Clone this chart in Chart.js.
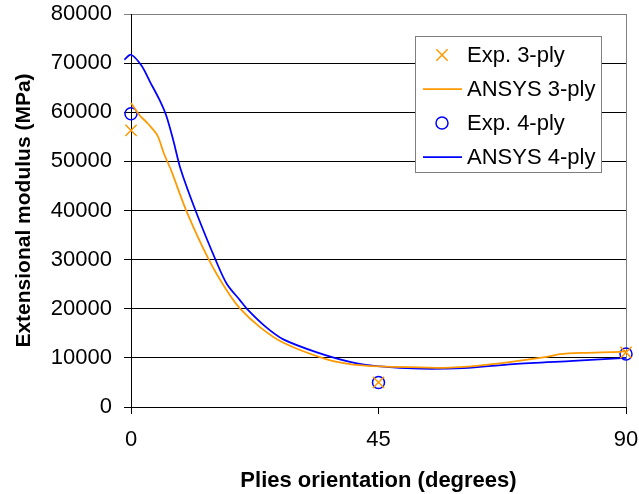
<!DOCTYPE html>
<html>
<head>
<meta charset="utf-8">
<script src="https://cdn.jsdelivr.net/npm/chart.js@4"></script>
<style>
  html, body { margin: 0; padding: 0; background: #fff; }
  canvas { display: block; }
</style>
</head>
<body>
<canvas id="chart" width="639" height="494"></canvas>
<script>
// ── Data ──────────────────────────────────────────────────────────────────
const expAngles    = [0, 45, 90];
const exp3Ply      = [56300, 5000, 11100];
const exp4Ply      = [59700, 5000, 10800];

const ansys3Angles = [0, 1.6, 3.1, 4.8, 6.0, 7.3, 10.1, 14.2, 17.3, 19.8, 23.5, 27.7, 35, 39.8, 45.3, 52.5, 58, 65.3, 75.6, 78, 82.2, 88.9, 90];
const ansys3Ply    = [61900, 59350, 57660, 55300, 51560, 48170, 39840, 29880, 23900, 20060, 16200, 13070, 9900, 8740, 8250, 8070, 8000, 8680, 10220, 10770, 11040, 11240, 11380];

const ansys4Angles = [-1.2, 0, 1.9, 3.5, 5.1, 6.4, 7.7, 9.0, 11.8, 15.4, 17.4, 19.8, 21.3, 24.5, 27.7, 33.8, 39.8, 45.3, 52.5, 60.4, 69.5, 80.4, 90];
const ansys4Ply    = [70700, 71700, 69500, 66100, 62700, 59350, 54270, 48500, 39800, 29900, 25100, 21750, 19700, 16300, 13760, 11120, 9200, 8250, 7790, 7930, 8740, 9410, 10000];

const xTicks = [0, 45, 90];
const yMax = 80000, yStep = 10000;

const ORANGE = '#FF9900';
const BLUE   = '#0000FF';
const FONT   = 'Arial, "Liberation Sans", sans-serif';

const pts = (xs, ys) => xs.map((x, i) => ({ x, y: ys[i] }));

// ── Legend drawn inside the plot, Excel style ─────────────────────────────
const boxLegend = {
    id: 'boxLegend',
    afterDatasetsDraw(chart) {
        const ctx = chart.ctx;
        const L = 415, T = 36, W = 186, H = 136, rowH = 34;
        ctx.save();
        ctx.fillStyle = '#fff';
        ctx.fillRect(L, T, W, H);
        ctx.strokeStyle = '#808080';
        ctx.lineWidth = 1;
        ctx.strokeRect(L + 0.5, T + 0.5, W, H);
        ctx.font = '22px ' + FONT;
        ctx.textBaseline = 'middle';
        chart.data.datasets.forEach((ds, i) => {
            const y = T + 19 + rowH * i;
            ctx.strokeStyle = ds.borderColor;
            if (ds.showLine === false) {
                ctx.lineWidth = ds.pointBorderWidth;
                ctx.fillStyle = ds.backgroundColor;
                Chart.helpers.drawPoint(ctx, {
                    pointStyle: ds.pointStyle, radius: ds.pointRadius,
                    rotation: 0, borderWidth: ds.pointBorderWidth
                }, L + 27, y);
            } else {
                ctx.lineWidth = ds.borderWidth;
                ctx.beginPath();
                ctx.moveTo(L + 8, y);
                ctx.lineTo(L + 47, y);
                ctx.stroke();
            }
            ctx.fillStyle = '#000';
            ctx.fillText(ds.label, L + 52, y + 1);
        });
        ctx.restore();
    }
};

Chart.defaults.font.family = FONT;
Chart.defaults.color = '#000';

new Chart(document.getElementById('chart'), {
    type: 'scatter',
    data: {
        datasets: [
            {
                label: 'Exp. 3-ply',
                data: pts(expAngles, exp3Ply),
                showLine: false,
                pointStyle: 'crossRot',
                pointRadius: 8,
                pointBorderWidth: 1.5,
                borderColor: ORANGE,
                backgroundColor: ORANGE,
                clip: false
            },
            {
                label: 'ANSYS 3-ply',
                data: pts(ansys3Angles, ansys3Ply),
                showLine: true,
                borderColor: ORANGE,
                backgroundColor: ORANGE,
                borderWidth: 1.75,
                pointRadius: 0,
                tension: 0.3,
                clip: false
            },
            {
                label: 'Exp. 4-ply',
                data: pts(expAngles, exp4Ply),
                showLine: false,
                pointStyle: 'circle',
                pointRadius: 6,
                pointBorderWidth: 1.5,
                borderColor: BLUE,
                backgroundColor: 'rgba(0,0,0,0)',
                clip: false
            },
            {
                label: 'ANSYS 4-ply',
                data: pts(ansys4Angles, ansys4Ply),
                showLine: true,
                borderColor: BLUE,
                backgroundColor: BLUE,
                borderWidth: 1.75,
                pointRadius: 0,
                tension: 0.3,
                clip: false
            }
        ]
    },
    options: {
        responsive: false,
        animation: false,
        layout: { padding: { top: 14, right: 13, bottom: 0, left: 0 } },
        scales: {
            x: {
                type: 'linear',
                min: 0,
                max: 90,
                afterFit: s => {
                    s.height = 87;
                    s.paddingLeft = 0;
                    s.paddingRight = 0;
                },
                afterBuildTicks: s => { s.ticks = xTicks.map(v => ({ value: v })); },
                ticks: { font: { size: 22 }, padding: 13, maxRotation: 0, callback: v => String(v) },
                grid: {
                    color: c => (c.tick && c.tick.value === 90 ? '#808080' : 'rgba(0,0,0,0)'),
                    tickColor: '#000',
                    tickLength: 7
                },
                border: { color: '#000', width: 1 },
                title: {
                    display: true,
                    text: 'Plies orientation (degrees)',
                    font: { size: 22, weight: 'bold' },
                    padding: { top: 0, bottom: 0 }
                }
            },
            y: {
                min: 0,
                max: yMax,
                afterFit: s => {
                    s.width = 131;
                    s.paddingTop = 0;
                    s.paddingBottom = 0;
                },
                ticks: { stepSize: yStep, font: { size: 22 }, padding: 12, callback: v => String(v) },
                grid: {
                    color: c => (c.tick && c.tick.value === yMax ? '#808080' : '#000'),
                    tickLength: 7
                },
                border: { color: '#000', width: 1 },
                title: {
                    display: true,
                    text: 'Extensional modulus (MPa)',
                    font: { size: 21, weight: 'bold' },
                    padding: { top: 12, bottom: 0 }
                }
            }
        },
        plugins: {
            legend: { display: false },
            tooltip: { enabled: false }
        }
    },
    plugins: [boxLegend]
});
</script>
</body>
</html>
